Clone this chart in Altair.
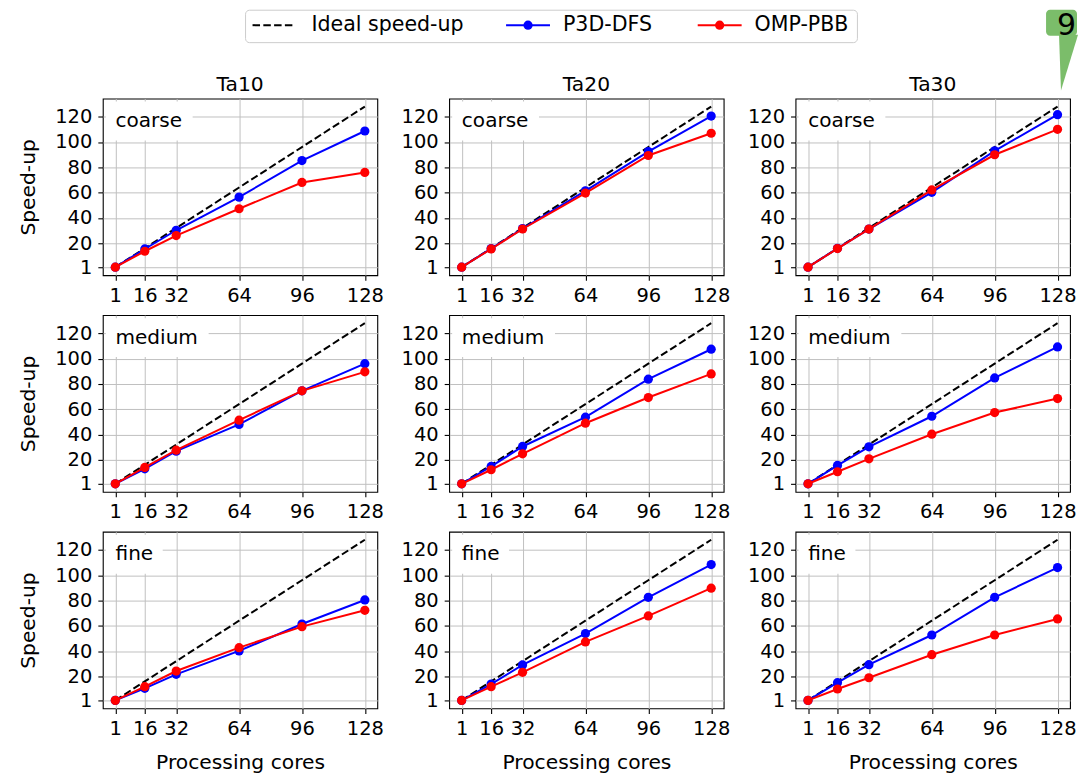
import altair as alt
import pandas as pd

# ---------------- data ----------------
cores = [1, 16, 32, 64, 96, 128]
instances = ["Ta10", "Ta20", "Ta30"]
granularities = ["coarse", "medium", "fine"]
series_names = ["P3D-DFS", "OMP-PBB"]
ideal_name = "Ideal speed-up"
x_ticks = [1, 16, 32, 64, 96, 128]
y_ticks = [1, 20, 40, 60, 80, 100, 120]
x_title = "Processing cores"
y_title = "Speed-up"
callout_text = "94"

# P3D-DFS speed-ups
p3d_coarse_ta10 = [1, 15.4, 30.2, 56.4, 85.3, 108.7]
p3d_coarse_ta20 = [1, 15.7, 31.5, 61.4, 92.4, 120.5]
p3d_coarse_ta30 = [1, 15.9, 31.1, 60.2, 93.0, 121.6]
p3d_medium_ta10 = [1, 12.8, 26.8, 47.9, 74.5, 96.0]
p3d_medium_ta20 = [1, 14.7, 30.5, 53.7, 83.7, 107.4]
p3d_medium_ta30 = [1, 15.5, 30.2, 54.4, 84.7, 109.2]
p3d_fine_ta10 = [1, 10.5, 21.6, 40.1, 61.4, 80.4]
p3d_fine_ta20 = [1, 13.9, 29.0, 53.8, 82.5, 108.4]
p3d_fine_ta30 = [1, 15.0, 29.2, 52.7, 82.5, 106.0]

# OMP-PBB speed-ups
omp_coarse_ta10 = [1, 13.6, 26.0, 47.2, 68.0, 75.9]
omp_coarse_ta20 = [1, 15.4, 31.2, 59.6, 89.3, 106.9]
omp_coarse_ta30 = [1, 15.7, 31.1, 62.1, 89.9, 110.0]
omp_medium_ta10 = [1, 13.9, 27.6, 51.3, 74.5, 89.5]
omp_medium_ta20 = [1, 12.1, 24.7, 48.9, 69.2, 87.9]
omp_medium_ta30 = [1, 10.5, 20.7, 40.2, 57.3, 68.4]
omp_fine_ta10 = [1, 11.8, 24.2, 42.7, 59.3, 72.2]
omp_fine_ta20 = [1, 11.8, 23.2, 47.2, 67.8, 89.7]
omp_fine_ta30 = [1, 10.0, 18.9, 37.1, 52.7, 65.4]

speedups = {
    "coarse": {"Ta10": (p3d_coarse_ta10, omp_coarse_ta10),
               "Ta20": (p3d_coarse_ta20, omp_coarse_ta20),
               "Ta30": (p3d_coarse_ta30, omp_coarse_ta30)},
    "medium": {"Ta10": (p3d_medium_ta10, omp_medium_ta10),
               "Ta20": (p3d_medium_ta20, omp_medium_ta20),
               "Ta30": (p3d_medium_ta30, omp_medium_ta30)},
    "fine": {"Ta10": (p3d_fine_ta10, omp_fine_ta10),
             "Ta20": (p3d_fine_ta20, omp_fine_ta20),
             "Ta30": (p3d_fine_ta30, omp_fine_ta30)},
}

# ---------------- style ----------------
FONT = "DejaVu Sans"
W, H = 275, 177
DOMAIN = [-5.35, 134.35]
BLUE, RED = "#0000ff", "#ff0000"
DASH = [7.5, 3.3]
LW = 2
DOT = 85
BOX_W = {"coarse": 90, "medium": 106, "fine": 60}
GREEN = "#7bbd6a"


def one(label):
    return pd.DataFrame({"label": [label]})


def make_panel(r, c):
    gran = granularities[r]
    inst = instances[c]
    p3d, omp = speedups[gran][inst]

    x = alt.X(
        "cores:Q",
        scale=alt.Scale(domain=DOMAIN, nice=False, zero=False),
        axis=alt.Axis(values=x_ticks, format="d",
                      title=x_title if r == 2 else None,
                      labelOverlap=False, labelFlush=False,
                      minExtent=30, maxExtent=30, titlePadding=30,
                      titleBaseline="alphabetic"),
    )
    y = alt.Y(
        "speedup:Q",
        scale=alt.Scale(domain=DOMAIN, nice=False, zero=False),
        axis=alt.Axis(values=y_ticks, format="d",
                      title=y_title if c == 0 else None,
                      labelOverlap=False, labelFlush=False,
                      minExtent=48, maxExtent=48, titlePadding=20,
                      titleBaseline="alphabetic"),
    )

    ideal_df = pd.DataFrame({"cores": cores, "speedup": cores})
    layers = [alt.Chart(ideal_df).mark_line(color="black", strokeDash=DASH,
                                             strokeWidth=LW).encode(x=x, y=y)]
    for name, vals, col in [(series_names[0], p3d, BLUE), (series_names[1], omp, RED)]:
        sdf = pd.DataFrame({"cores": cores, "speedup": vals, "series": name})
        layers.append(alt.Chart(sdf).mark_line(color=col, strokeWidth=LW).encode(x=x, y=y))
        layers.append(alt.Chart(sdf).mark_circle(color=col, size=DOT, opacity=1).encode(x=x, y=y))

    # panel label with white box
    layers.append(alt.Chart(one(gran)).mark_rect(fill="white", strokeWidth=0).encode(
        x=alt.value(3), x2=alt.value(BOX_W[gran]), y=alt.value(3), y2=alt.value(42)))
    layers.append(alt.Chart(one(gran)).mark_text(
        align="left", baseline="alphabetic", font=FONT, fontSize=20.1, color="black"
    ).encode(x=alt.value(12.7), y=alt.value(28.5), text="label:N"))

    if r == 0:
        # column title
        layers.append(alt.Chart(one(inst)).mark_text(
            align="center", baseline="alphabetic", font=FONT, fontSize=20.3, color="black"
        ).encode(x=alt.value(W / 2), y=alt.value(-8), text="label:N"))

    if r == 0 and c == 1:
        # figure legend
        layers.append(alt.Chart(one("box")).mark_rect(
            fill="white", stroke="#cccccc", strokeWidth=1, cornerRadius=4
        ).encode(x=alt.value(-204), x2=alt.value(409), y=alt.value(-88.5), y2=alt.value(-56)))
        ly = -73.5
        layers.append(alt.Chart(one(ideal_name)).mark_rule(
            color="black", strokeDash=DASH, strokeWidth=LW
        ).encode(x=alt.value(-197), x2=alt.value(-155), y=alt.value(ly)))
        for name, col, x0 in [(series_names[0], BLUE, 57), (series_names[1], RED, 249)]:
            layers.append(alt.Chart(one(name)).mark_rule(color=col, strokeWidth=LW).encode(
                x=alt.value(x0), x2=alt.value(x0 + 44), y=alt.value(ly)))
            layers.append(alt.Chart(one(name)).mark_circle(color=col, size=DOT, opacity=1).encode(
                x=alt.value(x0 + 22), y=alt.value(ly)))
        for name, tx in [(ideal_name, -138), (series_names[0], 114), (series_names[1], 306)]:
            layers.append(alt.Chart(one(name)).mark_text(
                align="left", baseline="middle", font=FONT, fontSize=20.6, color="black"
            ).encode(x=alt.value(tx), y=alt.value(ly), text="label:N"))

    if r == 0 and c == 2:
        # green callout (cut at the right edge of the page)
        layers.append(alt.Chart(one(callout_text)).mark_rect(
            fill=GREEN, strokeWidth=0, cornerRadius=4
        ).encode(x=alt.value(251), x2=alt.value(282), y=alt.value(-89), y2=alt.value(-63)))
        layers.append(alt.Chart(one(callout_text)).mark_point(
            shape="M -0.34 -1 L 0.34 -1 L -0.27 1 Z", size=3136, filled=True,
            fill=GREEN, opacity=1, strokeWidth=0
        ).encode(x=alt.value(273.5), y=alt.value(-36)))
        layers.append(alt.Chart(one(callout_text)).mark_text(
            align="left", baseline="alphabetic", font=FONT, fontSize=30, color="black",
            limit=20, ellipsis="\u200b"
        ).encode(x=alt.value(262), y=alt.value(-64), text="label:N"))

    return alt.layer(*layers).properties(width=W, height=H)


panels = [make_panel(r, c) for r in range(3) for c in range(3)]

chart = alt.concat(
    *panels, columns=3, spacing={"row": 40, "column": 72}, bounds="flush"
).properties(
    padding={"left": 10, "top": 0, "right": 0, "bottom": 0}
).configure_view(
    stroke="black", strokeWidth=1.1
).configure_axis(
    labelFont=FONT, labelFontSize=19.5, labelColor="black",
    tickColor="black", tickSize=5, tickWidth=1.1, labelPadding=6,
    domain=False, grid=True, gridColor="#c0c0c0", gridWidth=1,
    titleFont=FONT, titleFontSize=20.3, titleFontWeight="normal", titleColor="black",
)

chart.save("out.html", embed_options={"renderer": "svg", "actions": False})
